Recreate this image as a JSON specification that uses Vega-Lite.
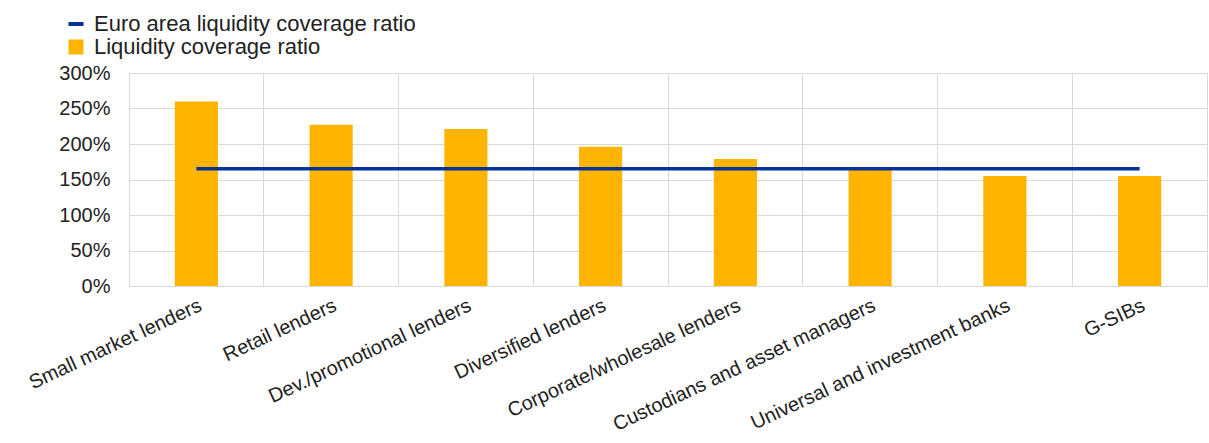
{
  "$schema": "https://vega.github.io/schema/vega-lite/v6.json",
  "autosize": {"type": "none"},
  "width": 1078,
  "height": 213,
  "padding": {"left": 129, "top": 73, "right": 2, "bottom": 157},
  "background": "white",
  "config": {
    "font": "Liberation Sans",
    "view": {"stroke": "#d9d9d9", "strokeWidth": 1},
    "axis": {"labelOverlap": false}
  },
  "data": {
    "values": [
      {"category": "Small market lenders", "lcr": 260, "euro": 165, "s1": "Euro area liquidity coverage ratio", "s2": "Liquidity coverage ratio"},
      {"category": "Retail lenders", "lcr": 227, "euro": 165, "s1": "Euro area liquidity coverage ratio", "s2": "Liquidity coverage ratio"},
      {"category": "Dev./promotional lenders", "lcr": 221, "euro": 165, "s1": "Euro area liquidity coverage ratio", "s2": "Liquidity coverage ratio"},
      {"category": "Diversified lenders", "lcr": 196, "euro": 165, "s1": "Euro area liquidity coverage ratio", "s2": "Liquidity coverage ratio"},
      {"category": "Corporate/wholesale lenders", "lcr": 179, "euro": 165, "s1": "Euro area liquidity coverage ratio", "s2": "Liquidity coverage ratio"},
      {"category": "Custodians and asset managers", "lcr": 165, "euro": 165, "s1": "Euro area liquidity coverage ratio", "s2": "Liquidity coverage ratio"},
      {"category": "Universal and investment banks", "lcr": 155, "euro": 165, "s1": "Euro area liquidity coverage ratio", "s2": "Liquidity coverage ratio"},
      {"category": "G-SIBs", "lcr": 155, "euro": 165, "s1": "Euro area liquidity coverage ratio", "s2": "Liquidity coverage ratio"}
    ]
  },
  "encoding": {
    "x": {
      "field": "category",
      "type": "nominal",
      "sort": null,
      "scale": {"paddingInner": 0, "paddingOuter": 0},
      "axis": {
        "title": null,
        "bandPosition": 0,
        "grid": true,
        "gridColor": "#d9d9d9",
        "gridWidth": 1,
        "ticks": false,
        "domain": false,
        "labelAngle": -25,
        "labelAlign": "right",
        "labelBaseline": "top",
        "labelPadding": 9,
        "labelFontSize": 20,
        "labelColor": "#222222",
        "labelLimit": 0,
        "labelOverlap": false
      }
    }
  },
  "layer": [
    {
      "mark": {"type": "bar", "width": {"band": 0.32}},
      "encoding": {
        "y": {
          "field": "lcr",
          "type": "quantitative",
          "scale": {"domain": [0, 300], "nice": false},
          "axis": {
            "title": null,
            "values": [0, 50, 100, 150, 200, 250, 300],
            "labelExpr": "datum.value + '%'",
            "labelOverlap": false,
            "grid": true,
            "gridColor": "#d9d9d9",
            "gridWidth": 1,
            "ticks": false,
            "domain": false,
            "labelPadding": 19,
            "labelFontSize": 20,
            "labelColor": "#222222"
          }
        },
        "fill": {
          "field": "s2",
          "type": "nominal",
          "scale": {"range": ["#FFB400"]},
          "legend": {
            "title": null,
            "orient": "none",
            "legendX": -64,
            "legendY": -37,
            "padding": 0,
            "symbolType": "square",
            "symbolSize": 225,
            "symbolStrokeWidth": 0,
            "labelFontSize": 22,
            "labelColor": "#222222",
            "labelOffset": 7,
            "labelLimit": 0
          }
        }
      }
    },
    {
      "mark": {"type": "line", "strokeWidth": 3.5},
      "encoding": {
        "y": {
          "field": "euro",
          "type": "quantitative",
          "axis": {
            "title": null,
            "values": [0, 50, 100, 150, 200, 250, 300],
            "labelExpr": "datum.value + '%'",
            "labelOverlap": false,
            "grid": true,
            "gridColor": "#d9d9d9",
            "gridWidth": 1,
            "ticks": false,
            "domain": false,
            "labelPadding": 19,
            "labelFontSize": 20,
            "labelColor": "#222222"
          }
        },
        "stroke": {
          "field": "s1",
          "type": "nominal",
          "scale": {"range": ["#003299"]},
          "legend": {
            "title": null,
            "orient": "none",
            "legendX": -64,
            "legendY": -60,
            "padding": 0,
            "symbolType": "stroke",
            "symbolSize": 225,
            "symbolStrokeWidth": 4,
            "labelFontSize": 22,
            "labelColor": "#222222",
            "labelOffset": 7,
            "labelLimit": 0
          }
        }
      }
    }
  ]
}
